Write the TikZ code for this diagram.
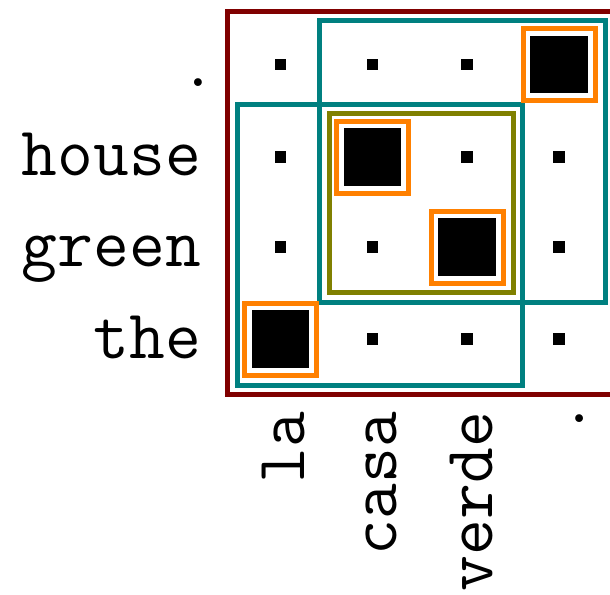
\documentclass[tikz,border=0pt]{standalone}
\usetikzlibrary{calc}
\definecolor{frameRed}{RGB}{128,0,0}
\definecolor{frameTeal}{RGB}{0,128,128}
\definecolor{frameOlive}{RGB}{128,128,0}
\definecolor{hitOrange}{RGB}{255,128,0}

\begin{document}
\begin{tikzpicture}[
  x=1pt, y=-1pt,
  font=\ttfamily\fontsize{69.5}{70}\selectfont,
  cell/.style={fill=black, draw=none, minimum size=11.5pt, inner sep=0pt},
  hit/.style={fill=black, draw=none, minimum size=57.5pt, inner sep=0pt},
  hitbox/.style={draw=hitOrange, line width=5pt, minimum size=72pt, inner sep=0pt},
  phrase/.style={line width=5pt},
  word/.style={inner sep=0pt, anchor=base east},
]

\useasboundingbox (0,0) rectangle (610,594);
\clip (0,0) rectangle (610,594);

% ---------- cell centres (column, row) ----------
\foreach \i/\x in {1/280.5,2/372.5,3/467,4/559}
  \foreach \j/\y in {1/64.5,2/157,3/247,4/339}
    \coordinate (c\i\j) at (\x,\y);

% ---------- phrase frames ----------
\draw[phrase, frameRed]   (227.5,11.5) rectangle (613,394.5);
\draw[phrase, frameTeal]  (319.5,21) rectangle (605.5,302.5);
\draw[phrase, frameTeal]  (237,104.5) rectangle (522.5,385.5);
\draw[phrase, frameOlive] (329,113.5) rectangle (513.5,292.5);

% ---------- weak cells ----------
\foreach \c in {11,21,31,12,32,42,13,23,43,24,34,44}
  \node[cell] (d\c) at (c\c) {};

% ---------- aligned cells ----------
\foreach \c in {41,22,33,14} {
  \node[hitbox] (o\c) at (c\c) {};
  \node[hit] (h\c) at (c\c) {};
}

% ---------- English words ----------
\node[word] (eDot)   at (216,86) {.};
\node[word] (eHouse) at (201,175) {house};
\node[word] (eGreen) at (201,266) {green};
\node[word] (eThe)   at (201,358) {the};

% ---------- Spanish words ----------
\node[word, rotate=90] (sLa)    at (304,412) {la};
\node[word, rotate=90] (sCasa)  at (396,412) {casa};
\node[word, rotate=90] (sVerde) at (492,412) {verde};
\node[word, rotate=90] (sDot)   at (583,401) {.};

\end{tikzpicture}
\end{document}
